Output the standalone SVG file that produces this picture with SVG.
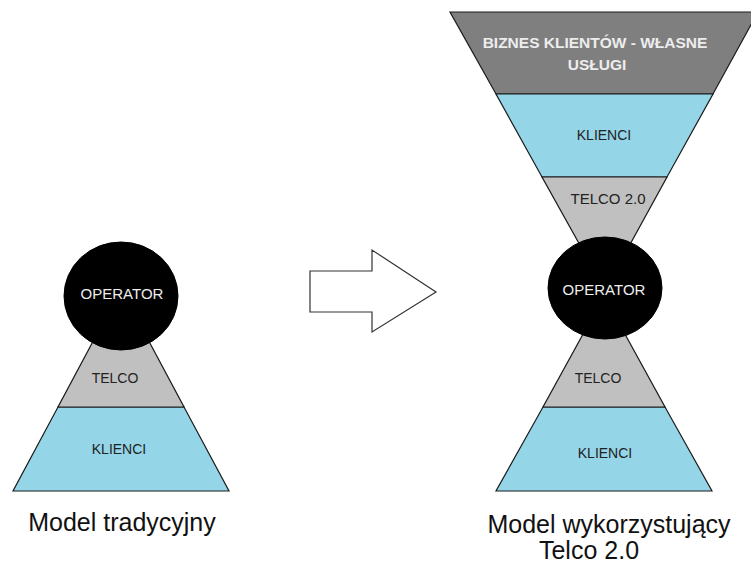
<svg xmlns="http://www.w3.org/2000/svg" width="751" height="564" viewBox="0 0 751 564">
<style>
.shape{stroke:#1a1a1a;stroke-width:1.2;stroke-linejoin:miter}
.blue{fill:#95d5e8}
.gray{fill:#c0c0c0}
.dark{fill:#7f7f7f}
.op{fill:#000;stroke:#000}
.lbl{font-family:"Liberation Sans",Arial,sans-serif;font-size:14px;fill:#222;text-anchor:middle;dominant-baseline:central}
.oplbl{font-family:"Liberation Sans",Arial,sans-serif;font-size:15px;fill:#eeeeee;text-anchor:middle;dominant-baseline:central}
.biz{font-family:"Liberation Sans",Arial,sans-serif;font-size:15.5px;font-weight:bold;fill:#ededed;text-anchor:middle;dominant-baseline:central}
.cap{font-family:"Liberation Sans",Arial,sans-serif;font-size:25px;fill:#111;text-anchor:middle}
</style>
<rect width="751" height="564" fill="#fff"/>

<!-- Left model -->
<g id="left-klienci">
<polygon class="shape blue" points="58,407 184,407 229,491 13,491"/>
<text class="lbl" x="119" y="449">KLIENCI</text>
</g>
<g id="left-telco">
<polygon class="shape gray" points="121,289 184,407 58,407"/>
<text class="lbl" x="115" y="378">TELCO</text>
</g>
<g id="left-operator">
<ellipse class="op" cx="121" cy="296" rx="57" ry="54"/>
<text class="oplbl" x="122" y="293">OPERATOR</text>
</g>
<g id="left-caption">
<text class="cap" x="122" y="531">Model tradycyjny</text>
</g>

<!-- Connector arrow -->
<g id="connectors">
<polygon points="310,271 372,271 372,250 436,292 372,332 372,312 310,312" fill="#fff" stroke="#333" stroke-width="1.2"/>
</g>

<!-- Right model -->
<g id="right-biznes">
<polygon class="shape dark" points="450,12 758,12 713,94 496,94"/>
<text class="biz" x="595" y="42">BIZNES KLIENTÓW - WŁASNE</text>
<text class="biz" x="597" y="64">USŁUGI</text>
</g>
<g id="right-klienci-top">
<polygon class="shape blue" points="496,94 713,94 667,177 542,177"/>
<text class="lbl" x="604" y="135">KLIENCI</text>
</g>
<g id="right-telco20">
<polygon class="shape gray" points="542,177 667,177 605,290"/>
<text class="lbl" x="608" y="198" style="font-size:15px">TELCO 2.0</text>
</g>
<g id="right-klienci-bottom">
<polygon class="shape blue" points="543,407 665,407 712,491 496,491"/>
<text class="lbl" x="605" y="453">KLIENCI</text>
</g>
<g id="right-telco">
<polygon class="shape gray" points="604,296 665,407 543,407"/>
<text class="lbl" x="598" y="378">TELCO</text>
</g>
<g id="right-operator">
<ellipse class="op" cx="605" cy="288" rx="57" ry="51"/>
<text class="oplbl" x="604" y="289">OPERATOR</text>
</g>
<g id="right-caption">
<text class="cap" x="609" y="533">Model wykorzystujący</text>
<text class="cap" x="589" y="559">Telco 2.0</text>
</g>
</svg>
